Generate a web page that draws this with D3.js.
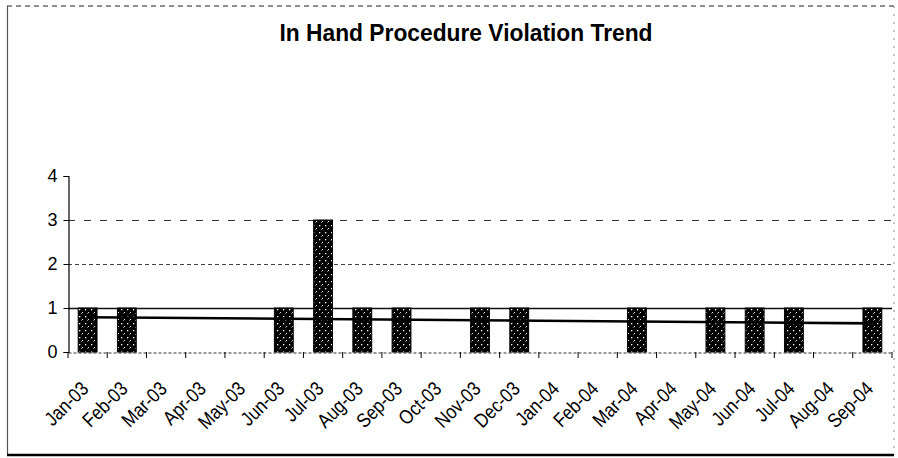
<!DOCTYPE html>
<html><head><meta charset="utf-8">
<script src="https://cdn.jsdelivr.net/npm/d3@7/dist/d3.min.js"></script>
<style>body{margin:0;background:#fff}svg{display:block}</style>
</head><body>
<svg id="c" width="898" height="458"></svg>
<script>
const categories = ["Jan-03","Feb-03","Mar-03","Apr-03","May-03","Jun-03","Jul-03","Aug-03","Sep-03","Oct-03","Nov-03","Dec-03","Jan-04","Feb-04","Mar-04","Apr-04","May-04","Jun-04","Jul-04","Aug-04","Sep-04"];
const violations = [1,1,0,0,0,1,3,1,1,0,1,1,0,0,1,0,1,1,1,0,1];
const trendEnds = [0.79, 0.65]; // linear trend line read at first and last category
const yTicks = [0,1,2,3,4];
const title = "In Hand Procedure Violation Trend";

const svg = d3.select("#c");
const x = d3.scaleBand().domain(categories).range([68, 892]).paddingInner(0.52).paddingOuter(0.26);
const y = d3.scaleLinear().domain([0,4]).range([352,176]);

// pattern
const defs = svg.append("defs");
const p = defs.append("pattern").attr("id","hatch").attr("width",6).attr("height",7).attr("patternUnits","userSpaceOnUse");
p.append("rect").attr("width",6).attr("height",7).attr("fill","#000");
p.append("rect").attr("x",1).attr("y",1).attr("width",1.3).attr("height",1.3).attr("fill","#fff");
p.append("line").attr("x1",3.5).attr("y1",5.5).attr("x2",5).attr("y2",4).attr("stroke","#fff").attr("stroke-width",0.9);

// border
svg.append("line").attr("x1",7).attr("x2",894).attr("y1",6).attr("y2",6).attr("stroke","#222").attr("stroke-width",1.2).attr("stroke-dasharray","5,4");
svg.append("line").attr("x1",7.5).attr("x2",7.5).attr("y1",6).attr("y2",455).attr("stroke","#555").attr("stroke-width",1.2);
svg.append("line").attr("x1",894).attr("x2",894).attr("y1",6).attr("y2",455).attr("stroke","#888").attr("stroke-width",1).attr("stroke-dasharray","2,6");
svg.append("line").attr("x1",7).attr("x2",894).attr("y1",455).attr("y2",455).attr("stroke","#000").attr("stroke-width",2.5);

// title
svg.append("text").attr("x",466).attr("y",41).attr("text-anchor","middle")
  .attr("font-family","'Liberation Sans Narrow','Arial Narrow','Liberation Sans',sans-serif")
  .attr("font-weight","bold").attr("font-size",24).attr("textLength",373).attr("lengthAdjust","spacingAndGlyphs")
  .attr("fill","#000").text(title);

// gridlines
const gridStyle = {1:{c:"#111",w:1.4,d:null},2:{c:"#444",w:1,d:"4,3"},3:{c:"#333",w:1,d:"7,9"}};
svg.append("g").selectAll("line").data(yTicks.filter(t=>t>0 && t<4)).join("line")
  .attr("x1",68).attr("x2",892).attr("y1",d=>y(d)+0.5).attr("y2",d=>y(d)+0.5)
  .attr("stroke",d=>gridStyle[d].c).attr("stroke-width",d=>gridStyle[d].w)
  .attr("stroke-dasharray",d=>gridStyle[d].d);

// y axis
const yAxis = svg.append("g").attr("transform","translate(68.5,0)")
  .call(d3.axisLeft(y).tickValues(yTicks).tickSize(5).tickPadding(6).tickFormat(d3.format("d")));
yAxis.select(".domain").attr("stroke","#000").attr("stroke-width",1.2);
yAxis.selectAll("text").attr("font-family","'Liberation Sans Narrow','Liberation Sans',sans-serif").attr("font-size",18).attr("fill","#000");

// x axis
const xAxis = svg.append("g").attr("transform","translate(0,352.5)")
  .call(d3.axisBottom(x).tickSize(0).tickFormat(""));
xAxis.select(".domain").attr("stroke","#333").attr("stroke-dasharray","3,2").attr("stroke-width",1.2);
const step = x.step();
const bounds = d3.range(categories.length+1).map(i=>x(categories[0]) - (step - x.bandwidth())/2 + i*step);
svg.append("g").selectAll("line").data(bounds).join("line")
  .attr("x1",d=>d).attr("x2",d=>d).attr("y1",352).attr("y2",358).attr("stroke","#000").attr("stroke-width",1);

// bars
const barData = violations.map((v,i)=>({c:categories[i],v})).filter(d=>d.v>0);
svg.append("g").selectAll("rect").data(barData).join("rect")
  .attr("x",d=>x(d.c)).attr("width",x.bandwidth())
  .attr("y",d=>y(d.v)).attr("height",d=>y(0)-y(d.v))
  .attr("fill","url(#hatch)").attr("stroke","#000").attr("stroke-width",1);

// trend line
const c0 = x(categories[0])+x.bandwidth()/2, c1 = x(categories[categories.length-1])+x.bandwidth()/2;
svg.append("line").attr("x1",c0).attr("x2",c1).attr("y1",y(trendEnds[0])).attr("y2",y(trendEnds[1]))
  .attr("stroke","#000").attr("stroke-width",2.6);

// x labels
svg.append("g").selectAll("text").data(categories).join("text")
  .attr("transform",d=>`translate(${x(d)+x.bandwidth()/2+2},${390}) rotate(-45) scale(0.9,1.05)`)
  .attr("text-anchor","end")
  .attr("font-family","'Liberation Sans Narrow','Liberation Sans',sans-serif").attr("font-size",19).attr("fill","#000")
  .text(d=>d);
</script>
</body></html>
